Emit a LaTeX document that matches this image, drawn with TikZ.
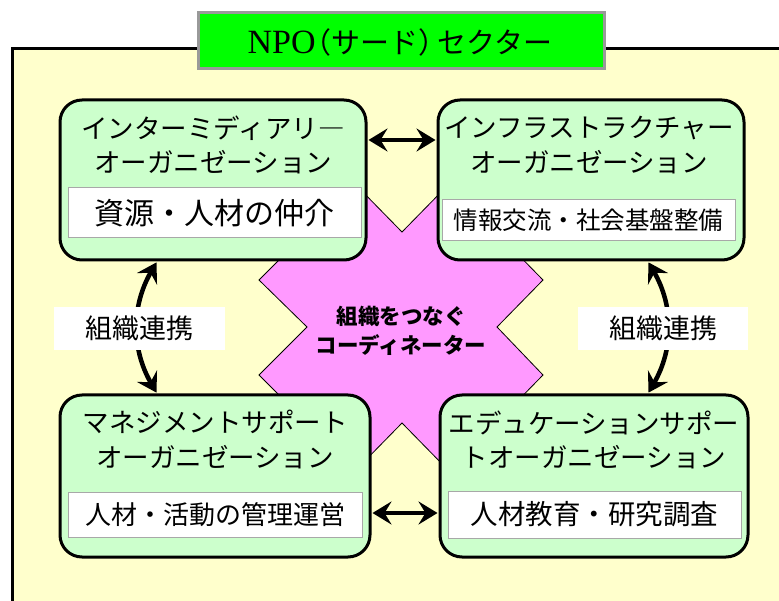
\documentclass[tikz,border=0pt]{standalone}
\usepackage{fontspec}
\newfontfamily\jp{Noto Sans CJK JP}
\newfontfamily\npo{Liberation Serif}
\usetikzlibrary{arrows.meta}
\definecolor{bgyellow}{HTML}{FFFFCC}
\definecolor{orggreen}{HTML}{CCFFCC}
\definecolor{titlegreen}{HTML}{00FF00}
\definecolor{starpink}{HTML}{FF99FF}
\definecolor{framegray}{HTML}{999999}
\definecolor{innergray}{HTML}{A8A8A8}
\tikzset{
  orgbox/.style={draw=black, line width=3pt, fill=orggreen, rounded corners=22pt,
    minimum width=306pt, minimum height=160pt, inner sep=0pt},
  orgtext/.style={align=center, inner sep=0pt, font=\jp\fontsize{26.5}{34.5}\selectfont},
  innerbox/.style={draw=innergray, line width=1pt, fill=white, minimum width=293pt,
    minimum height=48pt, inner sep=0pt},
  linklabel/.style={fill=white, minimum width=171pt, minimum height=43pt, inner sep=0pt,
    font=\jp\fontsize{27}{30}\selectfont},
  titlebox/.style={draw=framegray, line width=3pt, fill=titlegreen, minimum width=406pt,
    minimum height=56pt, inner sep=0pt},
  tipS/.tip={Stealth[length=19pt,width=23pt,inset=7pt]},
  link/.style={line width=4.5pt, tipS-tipS, shorten <=1pt, shorten >=1pt}
}
\begin{document}
\begin{tikzpicture}[x=1pt,y=-1pt]
\useasboundingbox (0,0) rectangle (779,601);
\clip (0,0) rectangle (779,601);
\fill[white] (0,0) rectangle (779,601);
% outer sector frame
\draw[line width=3pt, fill=bgyellow] (12.5,49) rectangle (830,650);
% coordinator star
\draw[fill=starpink, line width=0.8pt] (259,280) -- (355,184) -- (402,232) -- (449,184)
  -- (543,280) -- (497,327) -- (543,375) -- (449,471) -- (402,423) -- (355,471)
  -- (259,375) -- (307,327) -- cycle;
\node[align=center, inner sep=0pt, font=\jp\bfseries\fontsize{21.5}{28.5}\selectfont]
  (startext) at (401,331) {組織をつなぐ\\コーディネーター};
% title
\node[titlebox] (title) at (401,41) {};
\node[inner sep=0pt] (titletext) at (400,42)
  {{\npo\fontsize{34}{36}\selectfont NPO}{\jp\fontsize{29}{36}\selectfont\kern-0.45em（サード）\kern-0.35em セクター}};
% organisation boxes
\node[orgbox] (tl) at (213,180) {};
\node[orgbox] (tr) at (591,180) {};
\node[orgbox, minimum width=310pt, minimum height=162pt] (bl) at (215,476) {};
\node[orgbox, minimum width=308pt, minimum height=162pt] (br) at (594,476) {};
% titles in boxes
\node[orgtext] (tlt) at (213,145) {インターミディアリ―\\オーガニゼーション};
\node[orgtext] (trt) at (589,145) {インフラストラクチャー\\オーガニゼーション};
\node[orgtext] (blt) at (215,439.5) {マネジメントサポート\\オーガニゼーション};
\node[orgtext] (brt) at (594,440) {エデュケーションサポー\\トオーガニゼーション};
% inner white boxes
\node[innerbox, minimum height=50pt, font=\jp\fontsize{30}{32}\selectfont] (tlw) at (214.5,213) {資源・人材の仲介};
\node[innerbox, minimum height=41pt, font=\jp\fontsize{24.5}{28}\selectfont] (trw) at (588.5,220) {情報交流・社会基盤整備};
\node[innerbox, minimum width=294pt, minimum height=45pt, font=\jp\fontsize{26}{30}\selectfont] (blw) at (215,514.5) {人材・活動の管理運営};
\node[innerbox, minimum height=47pt, font=\jp\fontsize{27.5}{30}\selectfont] (brw) at (594.5,514.5) {人材教育・研究調査};
% links
\draw[link] ([yshift=40pt]tl.east) -- ([yshift=40pt]tr.west);
\draw[link] ([yshift=-37pt]bl.east) -- ([yshift=-37pt]br.west);
\draw[link] ([xshift=-56pt]tl.south) to[bend right=30] ([xshift=-58pt]bl.north);
\draw[link] ([xshift=57pt]tr.south) to[bend left=30] ([xshift=54pt]br.north);
\node[linklabel] (ll) at (139,328.5) {組織連携};
\node[linklabel, minimum width=170pt] (rl) at (663,328.5) {組織連携};
\end{tikzpicture}
\end{document}
